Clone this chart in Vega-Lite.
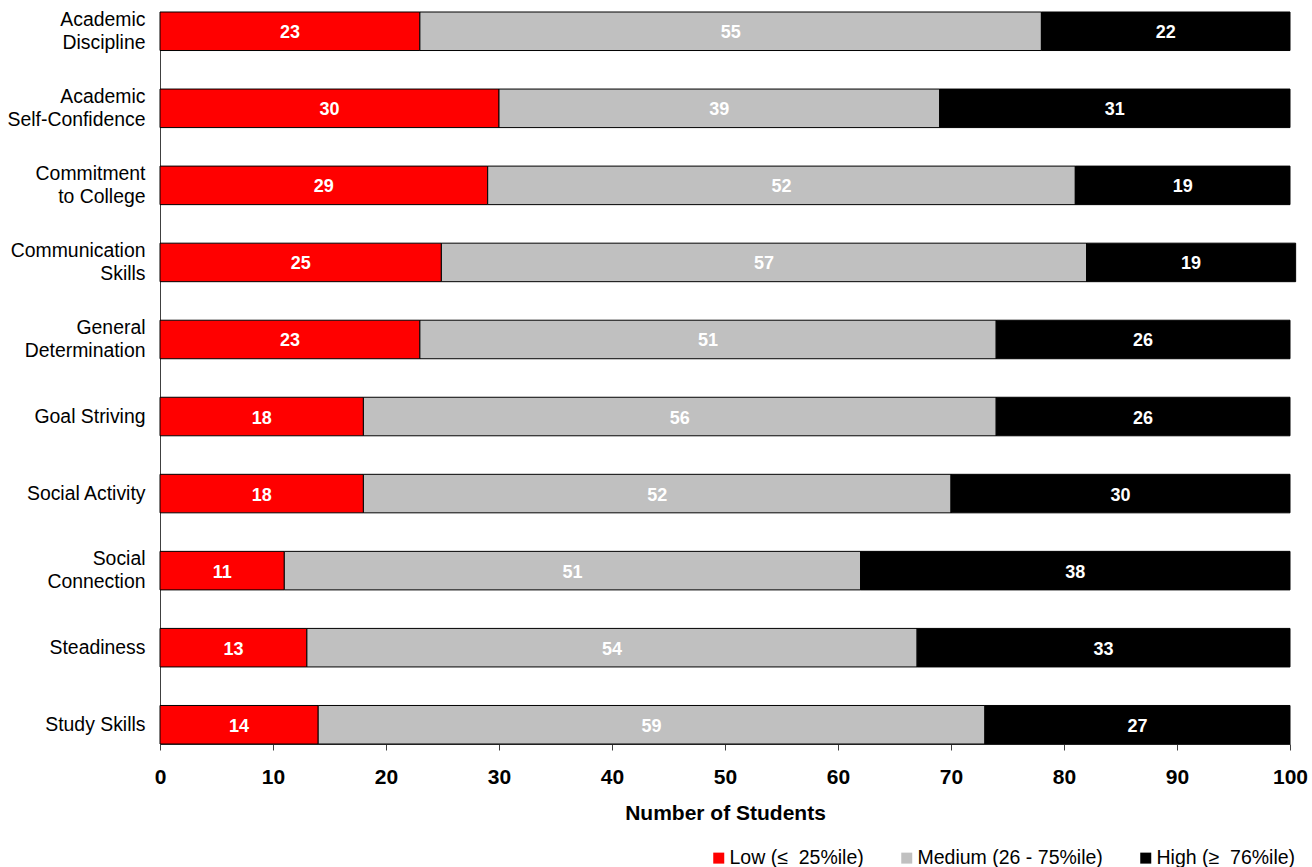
{
  "$schema": "https://vega.github.io/schema/vega-lite/v6.json",
  "autosize": {"type": "none"},
  "width": 1130,
  "height": 732,
  "padding": {"left": 160, "top": 12, "right": 22, "bottom": 123},
  "background": "white",
  "config": {
    "font": "Liberation Sans",
    "view": {"stroke": null},
    "axis": {"grid": false, "domainColor": "#404040", "tickColor": "#404040", "labelColor": "black", "titleColor": "black"}
  },
  "data": {
    "values": [
      {"cat": "Academic|Discipline", "level": "Low (≤\u00a0 25%ile)", "ord": 1, "n": 23},
      {"cat": "Academic|Discipline", "level": "Medium (26 - 75%ile)", "ord": 2, "n": 55},
      {"cat": "Academic|Discipline", "level": "High (≥\u00a0 76%ile)", "ord": 3, "n": 22},
      {"cat": "Academic|Self-Confidence", "level": "Low (≤\u00a0 25%ile)", "ord": 1, "n": 30},
      {"cat": "Academic|Self-Confidence", "level": "Medium (26 - 75%ile)", "ord": 2, "n": 39},
      {"cat": "Academic|Self-Confidence", "level": "High (≥\u00a0 76%ile)", "ord": 3, "n": 31},
      {"cat": "Commitment|to College", "level": "Low (≤\u00a0 25%ile)", "ord": 1, "n": 29},
      {"cat": "Commitment|to College", "level": "Medium (26 - 75%ile)", "ord": 2, "n": 52},
      {"cat": "Commitment|to College", "level": "High (≥\u00a0 76%ile)", "ord": 3, "n": 19},
      {"cat": "Communication|Skills", "level": "Low (≤\u00a0 25%ile)", "ord": 1, "n": 24.9},
      {"cat": "Communication|Skills", "level": "Medium (26 - 75%ile)", "ord": 2, "n": 57.1},
      {"cat": "Communication|Skills", "level": "High (≥\u00a0 76%ile)", "ord": 3, "n": 18.5},
      {"cat": "General|Determination", "level": "Low (≤\u00a0 25%ile)", "ord": 1, "n": 23},
      {"cat": "General|Determination", "level": "Medium (26 - 75%ile)", "ord": 2, "n": 51},
      {"cat": "General|Determination", "level": "High (≥\u00a0 76%ile)", "ord": 3, "n": 26},
      {"cat": "Goal Striving", "level": "Low (≤\u00a0 25%ile)", "ord": 1, "n": 18},
      {"cat": "Goal Striving", "level": "Medium (26 - 75%ile)", "ord": 2, "n": 56},
      {"cat": "Goal Striving", "level": "High (≥\u00a0 76%ile)", "ord": 3, "n": 26},
      {"cat": "Social Activity", "level": "Low (≤\u00a0 25%ile)", "ord": 1, "n": 18},
      {"cat": "Social Activity", "level": "Medium (26 - 75%ile)", "ord": 2, "n": 52},
      {"cat": "Social Activity", "level": "High (≥\u00a0 76%ile)", "ord": 3, "n": 30},
      {"cat": "Social|Connection", "level": "Low (≤\u00a0 25%ile)", "ord": 1, "n": 11},
      {"cat": "Social|Connection", "level": "Medium (26 - 75%ile)", "ord": 2, "n": 51},
      {"cat": "Social|Connection", "level": "High (≥\u00a0 76%ile)", "ord": 3, "n": 38},
      {"cat": "Steadiness", "level": "Low (≤\u00a0 25%ile)", "ord": 1, "n": 13},
      {"cat": "Steadiness", "level": "Medium (26 - 75%ile)", "ord": 2, "n": 54},
      {"cat": "Steadiness", "level": "High (≥\u00a0 76%ile)", "ord": 3, "n": 33},
      {"cat": "Study Skills", "level": "Low (≤\u00a0 25%ile)", "ord": 1, "n": 14},
      {"cat": "Study Skills", "level": "Medium (26 - 75%ile)", "ord": 2, "n": 59},
      {"cat": "Study Skills", "level": "High (≥\u00a0 76%ile)", "ord": 3, "n": 27}
    ]
  },
  "encoding": {
    "y": {
      "field": "cat", "type": "nominal", "sort": null,
      "scale": {"paddingInner": 0.5, "paddingOuter": 0},
      "axis": {"title": null, "ticks": false, "labelPadding": 15, "labelFontSize": 19.4, "labelExpr": "split(datum.label, '|')", "labelLineHeight": 23, "labelLimit": 300,
        "labelOffset": {"condition": {"test": "indexof(datum.value, '|') >= 0", "value": -11.5}, "value": 0}}
    }
  },
  "layer": [
    {
      "mark": {"type": "bar", "stroke": "black", "strokeWidth": 1},
      "encoding": {
        "x": {
          "field": "n", "type": "quantitative", "stack": "zero",
          "scale": {"domain": [0, 100], "nice": false},
          "axis": {"title": "Number of Students", "values": [0,10,20,30,40,50,60,70,80,90,100], "tickSize": 6, "labelFontSize": 21, "labelFontWeight": "bold", "labelPadding": 16, "titleFontSize": 21, "titleFontWeight": "bold", "titlePadding": 15, "labelFlush": false}
        },
        "color": {
          "field": "level", "type": "nominal",
          "scale": {"domain": ["Low (≤\u00a0 25%ile)", "Medium (26 - 75%ile)", "High (≥\u00a0 76%ile)"], "range": ["#FF0000", "#C0C0C0", "#000000"]},
          "legend": {"title": null, "orient": "none", "direction": "horizontal", "legendX": 549, "legendY": 836, "symbolType": "square", "symbolSize": 121, "symbolStrokeWidth": 0, "labelFontSize": 19.5, "labelOffset": 1, "columnPadding": 33, "labelLimit": 400}
        },
        "order": {"field": "ord", "type": "quantitative"}
      }
    },
    {
      "mark": {"type": "text", "color": "white", "fontWeight": "bold", "fontSize": 18, "baseline": "middle", "align": "center", "dy": 2},
      "encoding": {
        "x": {"field": "n", "type": "quantitative", "stack": "zero", "bandPosition": 0.5},
        "text": {"field": "n", "type": "quantitative", "format": ".0f"},
        "order": {"field": "ord", "type": "quantitative"}
      }
    }
  ]
}
